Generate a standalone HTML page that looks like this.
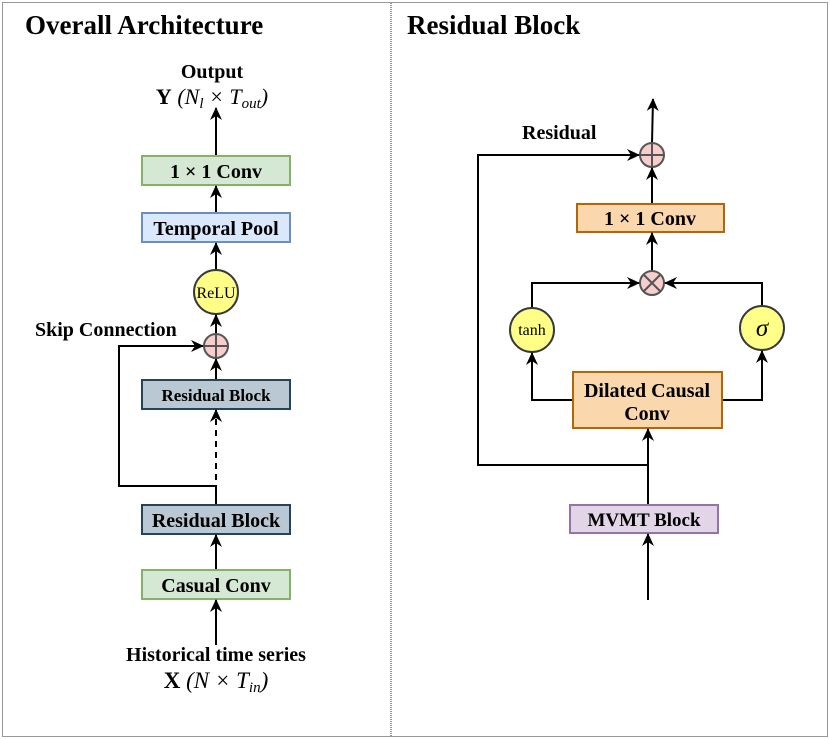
<!DOCTYPE html>
<html><head><meta charset="utf-8"><style>
html,body{margin:0;padding:0;background:#fff}
svg{display:block}
text{font-family:"Liberation Serif",serif;fill:#000}
.b{font-weight:bold}
</style></head><body>
<svg width="830" height="739" viewBox="0 0 830 739" xmlns="http://www.w3.org/2000/svg">
<defs>
<marker id="a" markerWidth="14" markerHeight="14" refX="12" refY="7" orient="auto" markerUnits="userSpaceOnUse">
<path d="M0,1 L13,7 L0,13 L4,7 Z" fill="#000"/>
</marker>
</defs>
<rect x="2.5" y="2.5" width="825" height="734" fill="none" stroke="#333" stroke-dasharray="1,1"/>
<line x1="391" y1="3" x2="391" y2="736" stroke="#333" stroke-dasharray="1,1"/>

<text x="25" y="34" class="b" font-size="27">Overall Architecture</text>
<text x="407" y="34" class="b" font-size="27">Residual Block</text>

<!-- LEFT -->
<text x="212" y="78" class="b" font-size="20" text-anchor="middle">Output</text>
<text x="212" y="104" font-size="22" text-anchor="middle"><tspan font-weight="bold">Y</tspan> <tspan font-style="italic">(N<tspan font-size="15" dy="4">l</tspan><tspan dy="-4"> × T</tspan><tspan font-size="15" dy="4">out</tspan><tspan dy="-4">)</tspan></tspan></text>
<line x1="216" y1="156" x2="216" y2="108" stroke="#000" stroke-width="2" marker-end="url(#a)"/>
<rect x="142" y="156" width="148" height="29" fill="#d5e8d4" stroke="#82b366" stroke-width="2"/>
<text x="216" y="178" class="b" font-size="20" text-anchor="middle">1 × 1 Conv</text>
<line x1="216" y1="213" x2="216" y2="186" stroke="#000" stroke-width="2" marker-end="url(#a)"/>
<rect x="142" y="213" width="148" height="29" fill="#dae8fc" stroke="#6c8ebf" stroke-width="2"/>
<text x="216" y="235" class="b" font-size="20" text-anchor="middle">Temporal Pool</text>
<line x1="216" y1="270" x2="216" y2="243" stroke="#000" stroke-width="2" marker-end="url(#a)"/>
<circle cx="216" cy="292" r="22" fill="#ffff88" stroke="#36393d" stroke-width="2"/>
<text x="216" y="298" font-size="16" text-anchor="middle">ReLU</text>
<line x1="216" y1="334" x2="216" y2="315" stroke="#000" stroke-width="2" marker-end="url(#a)"/>
<circle cx="216" cy="346" r="12" fill="#f8cecc" stroke="#555" stroke-width="2"/>
<line x1="204" y1="346" x2="228" y2="346" stroke="#555" stroke-width="2"/>
<line x1="216" y1="334" x2="216" y2="358" stroke="#555" stroke-width="2"/>
<text x="35" y="336" class="b" font-size="20">Skip Connection</text>
<polyline points="216,505 216,486 119,486 119,346 203,346" fill="none" stroke="#000" stroke-width="2" marker-end="url(#a)"/>
<line x1="216" y1="380" x2="216" y2="359" stroke="#000" stroke-width="2" marker-end="url(#a)"/>
<rect x="142" y="380" width="148" height="29" fill="#bac8d3" stroke="#23445d" stroke-width="2"/>
<text x="216" y="401" class="b" font-size="17" text-anchor="middle">Residual Block</text>
<line x1="216" y1="480" x2="216" y2="410" stroke="#000" stroke-width="2" stroke-dasharray="6,5" marker-end="url(#a)"/>
<rect x="142" y="505" width="148" height="29" fill="#bac8d3" stroke="#23445d" stroke-width="2"/>
<text x="216" y="527" class="b" font-size="20" text-anchor="middle">Residual Block</text>
<line x1="216" y1="570" x2="216" y2="535" stroke="#000" stroke-width="2" marker-end="url(#a)"/>
<rect x="142" y="570" width="148" height="29" fill="#d5e8d4" stroke="#82b366" stroke-width="2"/>
<text x="216" y="592" class="b" font-size="20" text-anchor="middle">Casual Conv</text>
<line x1="216" y1="645" x2="216" y2="600" stroke="#000" stroke-width="2" marker-end="url(#a)"/>
<text x="216" y="661" class="b" font-size="20" text-anchor="middle">Historical time series</text>
<text x="216" y="688" font-size="23" text-anchor="middle"><tspan font-weight="bold">X</tspan> <tspan font-style="italic">(N × T<tspan font-size="15" dy="4">in</tspan><tspan dy="-4">)</tspan></tspan></text>

<!-- RIGHT -->
<line x1="652" y1="143" x2="653" y2="99" stroke="#000" stroke-width="2" marker-end="url(#a)"/>
<circle cx="652" cy="155" r="12" fill="#f8cecc" stroke="#555" stroke-width="2"/>
<line x1="640" y1="155" x2="664" y2="155" stroke="#555" stroke-width="2"/>
<line x1="652" y1="143" x2="652" y2="167" stroke="#555" stroke-width="2"/>
<text x="522" y="139" class="b" font-size="20">Residual</text>
<polyline points="648,465 478,465 478,155 639,155" fill="none" stroke="#000" stroke-width="2" marker-end="url(#a)"/>
<line x1="652" y1="204" x2="652" y2="168" stroke="#000" stroke-width="2" marker-end="url(#a)"/>
<rect x="577" y="204" width="147" height="28" fill="#fad7ac" stroke="#b46504" stroke-width="2"/>
<text x="650" y="225" class="b" font-size="20" text-anchor="middle">1 × 1 Conv</text>
<line x1="652" y1="271" x2="652" y2="233" stroke="#000" stroke-width="2" marker-end="url(#a)"/>
<circle cx="652" cy="283" r="12" fill="#f8cecc" stroke="#555" stroke-width="2"/>
<line x1="643.5" y1="274.5" x2="660.5" y2="291.5" stroke="#555" stroke-width="2"/>
<line x1="660.5" y1="274.5" x2="643.5" y2="291.5" stroke="#555" stroke-width="2"/>
<polyline points="532,308 532,283 639,283" fill="none" stroke="#000" stroke-width="2" marker-end="url(#a)"/>
<polyline points="762,306 762,283 665,283" fill="none" stroke="#000" stroke-width="2" marker-end="url(#a)"/>
<circle cx="532" cy="330" r="22" fill="#ffff88" stroke="#36393d" stroke-width="2"/>
<text x="532" y="335" font-size="16" text-anchor="middle">tanh</text>
<circle cx="762" cy="328" r="22" fill="#ffff88" stroke="#36393d" stroke-width="2"/>
<text x="762" y="336" font-size="25" font-style="italic" text-anchor="middle">σ</text>
<polyline points="573,400 532,400 532,353" fill="none" stroke="#000" stroke-width="2" marker-end="url(#a)"/>
<polyline points="722,400 762,400 762,351" fill="none" stroke="#000" stroke-width="2" marker-end="url(#a)"/>
<rect x="573" y="372" width="149" height="56" fill="#fad7ac" stroke="#b46504" stroke-width="2"/>
<text x="647" y="397" class="b" font-size="20" text-anchor="middle">Dilated Causal</text>
<text x="647" y="420" class="b" font-size="20" text-anchor="middle">Conv</text>
<line x1="648" y1="505" x2="648" y2="429" stroke="#000" stroke-width="2" marker-end="url(#a)"/>
<rect x="570" y="505" width="148" height="28" fill="#e1d5e7" stroke="#9673a6" stroke-width="2"/>
<text x="644" y="526" class="b" font-size="19" text-anchor="middle">MVMT Block</text>
<line x1="648" y1="600" x2="648" y2="534" stroke="#000" stroke-width="2" marker-end="url(#a)"/>
</svg>
</body></html>
